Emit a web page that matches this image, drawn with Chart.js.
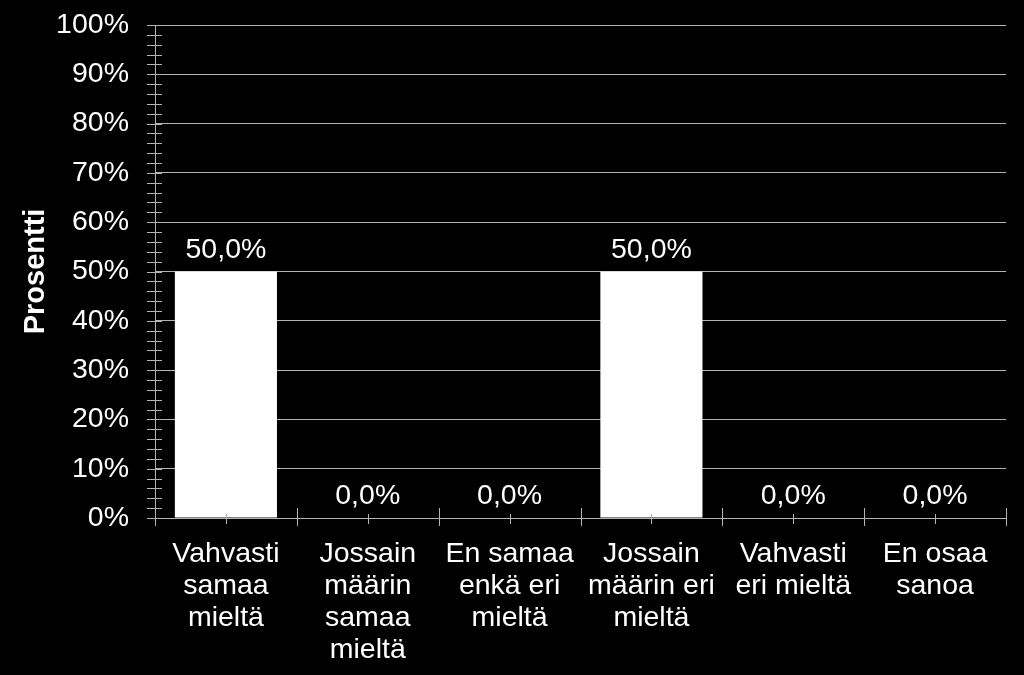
<!DOCTYPE html>
<html>
<head>
<meta charset="utf-8">
<script src="https://cdn.jsdelivr.net/npm/chart.js@4"></script>
<style>
  html, body { margin: 0; padding: 0; background: #000; }
  #wrap { width: 1024px; height: 675px; }
</style>
</head>
<body>
<div id="wrap"><canvas id="answers-chart"></canvas></div>
<script>
// answer categories (wrapped like in the original)
const categories = [
    ["Vahvasti", "samaa", "mieltä"],
    ["Jossain", "määrin", "samaa", "mieltä"],
    ["En samaa", "enkä eri", "mieltä"],
    ["Jossain", "määrin eri", "mieltä"],
    ["Vahvasti", "eri mieltä"],
    ["En osaa", "sanoa"]
];
// share of answers, percent
const percentValues = [50, 0, 0, 50, 0, 0];
const yTickStep = 10;
const yMinorStep = 2;

const FONT = "'Liberation Sans', Arial, sans-serif";
const FONT_SIZE = 28.5;
const lineColor = "#b4b4b4";

// value labels above the bars, e.g. "50,0%"
const valueLabels = {
    id: 'valueLabels',
    afterDatasetsDraw(chart) {
        const ctx = chart.ctx;
        const meta = chart.getDatasetMeta(0);
        ctx.save();
        ctx.font = FONT_SIZE + "px " + FONT;
        ctx.fillStyle = "#fff";
        ctx.textAlign = "center";
        ctx.textBaseline = "alphabetic";
        meta.data.forEach((bar, i) => {
            const txt = percentValues[i].toFixed(1).replace('.', ',') + '%';
            ctx.fillText(txt, bar.x, bar.y - 14);
        });
        ctx.restore();
    }
};

// tick marks crossing the axes
const axisTicks = {
    id: 'axisTicks',
    afterDraw(chart) {
        const ctx = chart.ctx;
        const yScale = chart.scales.y;
        const xScale = chart.scales.x;
        const axisX = chart.chartArea.left;
        const axisY = chart.chartArea.bottom;
        ctx.save();
        ctx.strokeStyle = lineColor;
        ctx.lineWidth = 1;
        ctx.beginPath();
        for (let v = 0; v <= 100; v += yMinorStep) {
            const y = Math.round(yScale.getPixelForValue(v)) + 0.5;
            ctx.moveTo(axisX - 8, y);
            ctx.lineTo(axisX + 7, y);
        }
        const catWidth = (xScale.right - xScale.left) / categories.length;
        for (let i = 0; i <= categories.length; i++) {
            const x = Math.round(xScale.left + i * catWidth) + 0.5;
            ctx.moveTo(x, axisY - 10);
            ctx.lineTo(x, axisY + 8);
        }
        for (let i = 0; i < categories.length; i++) {
            const x = Math.round(xScale.getPixelForValue(i)) + 0.5;
            ctx.moveTo(x, axisY - 4);
            ctx.lineTo(x, axisY + 6);
        }
        ctx.stroke();
        ctx.restore();
    }
};

const ctx = document.getElementById('answers-chart').getContext('2d');
new Chart(ctx, {
    type: 'bar',
    data: {
        labels: categories,
        datasets: [{
            label: 'Prosentti',
            data: percentValues,
            backgroundColor: '#ffffff',
            borderWidth: 0,
            categoryPercentage: 1.0,
            barPercentage: 0.72
        }]
    },
    options: {
        responsive: true,
        maintainAspectRatio: false,
        animation: false,
        layout: {
            padding: { top: 25, right: 18, left: 0, bottom: 0 }
        },
        scales: {
            x: {
                grid: { display: false },
                border: { display: true, color: lineColor, width: 1 },
                ticks: {
                    color: '#fff',
                    font: { family: FONT, size: FONT_SIZE, lineHeight: 1.12 },
                    padding: 12,
                    maxRotation: 0,
                    autoSkip: false
                },
                afterFit(scale) { scale.height = 157; }
            },
            y: {
                min: 0,
                max: 100,
                grid: { color: lineColor, lineWidth: 1, drawTicks: false },
                border: { display: true, color: lineColor, width: 1 },
                ticks: {
                    stepSize: yTickStep,
                    color: '#fff',
                    font: { family: FONT, size: FONT_SIZE },
                    padding: 26,
                    callback: v => v + '%'
                },
                title: {
                    display: true,
                    text: 'Prosentti',
                    color: '#fff',
                    font: { family: FONT, size: 29, weight: 'bold' },
                    padding: { top: 19, bottom: 0 }
                },
                afterFit(scale) {
                    scale.width = 155;
                    scale.paddingTop = 0;
                    scale.paddingBottom = 0;
                }
            }
        },
        plugins: {
            legend: { display: false },
            tooltip: { enabled: false }
        }
    },
    plugins: [valueLabels, axisTicks]
});
</script>
</body>
</html>
